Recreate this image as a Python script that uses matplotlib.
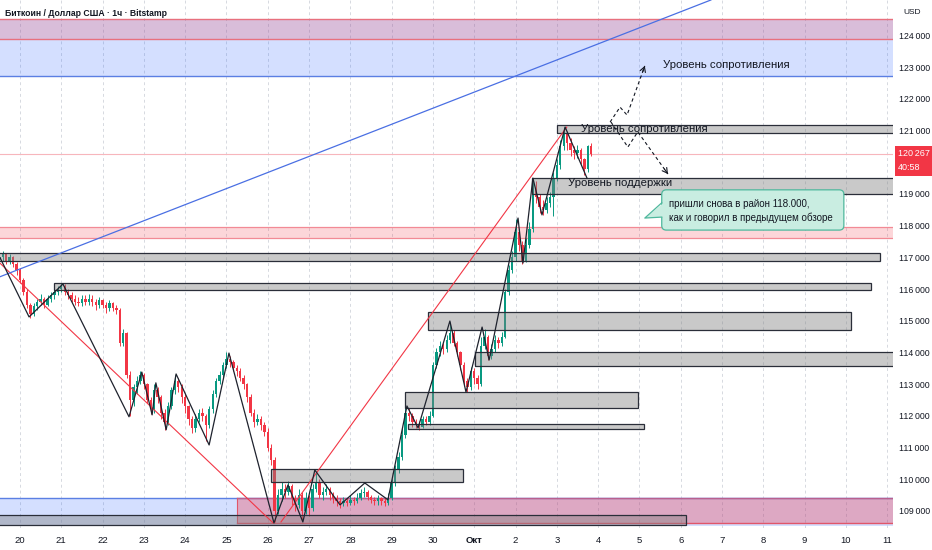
import matplotlib
matplotlib.use("Agg")
import matplotlib.pyplot as plt
import matplotlib.transforms as mtransforms
from matplotlib.patches import Rectangle, FancyBboxPatch, Polygon

plt.rcParams['font.family'] = ['Liberation Sans', 'DejaVu Sans']

# ---------------- data (time in days since 20 Sep 00:00, prices in thousands USD) -------------
t_start = -0.5          # first candle: 19 Sep 12:00
step = 1 / 12           # 2-hour candles
first_open = 116.95
closes = [
    117.0, 117.1, 116.9, 117.0, 116.8, 116.6, 116.3, 115.9, 115.5, 115.2, 115.45, 115.6,
    115.7, 115.5, 115.7, 115.8, 115.9, 116.0, 116.1, 115.9, 115.8, 115.7, 115.6, 115.55,
    115.7, 115.6, 115.7, 115.6, 115.5, 115.65, 115.5, 115.4, 115.55, 115.4, 115.35, 114.3,
    114.6, 113.3, 112.5, 112.9, 113.1, 113.3, 113.0, 112.5, 112.2, 112.8, 112.6, 112.1,
    111.8, 112.3, 112.8, 113.1, 112.9, 112.6, 112.3, 111.9, 111.6, 111.9, 112.1, 112.0,
    111.7, 112.2, 112.7, 113.1, 113.3, 113.6, 113.8, 113.7, 113.5, 113.4, 113.2, 113.0,
    112.6, 112.1, 111.8, 111.9, 111.7, 111.5, 111.0, 110.6, 109.0, 109.5, 109.7, 109.6,
    109.8, 109.4, 109.2, 109.5, 109.0, 109.4, 109.1, 109.7, 109.9, 109.5, 109.6, 109.7,
    109.5, 109.4, 109.3, 109.25, 109.3, 109.25, 109.35, 109.3, 109.4, 109.55, 109.6, 109.45,
    109.35, 109.3, 109.4, 109.3, 109.25, 109.4, 109.9, 110.3, 110.7, 111.4, 112.1, 112.0,
    111.8, 111.7, 111.65, 111.9, 111.8, 112.0, 113.6, 114.0, 114.2, 114.1, 114.4, 114.6,
    114.3, 114.0, 113.6, 113.1, 112.9, 113.4, 113.2, 113.0, 114.2, 114.5, 113.9, 114.1,
    114.4, 114.3, 114.5, 115.9, 116.6, 117.0, 117.8, 117.4, 116.9, 117.4, 117.9, 119.2,
    118.9, 118.6, 118.5, 118.7, 118.9, 119.5, 119.9, 120.5, 120.9, 120.6, 120.4, 120.3,
    120.4, 120.1, 119.8, 120.5, 120.267,
]
highs = [
    117.15, 117.2, 117.15, 117.1, 117.05, 116.85, 116.65, 116.35, 116.0, 115.55, 115.55, 115.7,
    115.85, 115.75, 115.8, 115.9, 116.0, 116.1, 116.2, 116.15, 116.0, 115.9, 115.8, 115.75,
    115.8, 115.8, 115.85, 115.8, 115.7, 115.75, 115.7, 115.6, 115.65, 115.6, 115.5, 115.4,
    114.75, 114.65, 113.4, 113.0, 113.25, 113.4, 113.35, 113.05, 112.6, 113.0, 112.9, 112.65,
    112.2, 112.45, 112.9, 113.3, 113.2, 113.0, 112.7, 112.35, 112.0, 112.05, 112.2, 112.25,
    112.05, 112.3, 112.8, 113.2, 113.4, 113.7, 114.0, 113.9, 113.75, 113.6, 113.5, 113.3,
    113.05, 112.7, 112.2, 112.05, 112.0, 111.8, 111.6, 111.1, 110.7, 109.7, 109.9, 109.85,
    109.95, 109.85, 109.5, 109.7, 109.6, 109.6, 109.5, 109.85, 110.2, 110.0, 109.75, 109.85,
    109.75, 109.6, 109.5, 109.4, 109.45, 109.4, 109.5, 109.45, 109.55, 109.7, 109.75, 109.65,
    109.5, 109.45, 109.5, 109.45, 109.4, 109.55, 110.0, 110.45, 110.85, 111.6, 112.3, 112.25,
    112.1, 111.9, 111.85, 112.0, 112.0, 112.15, 113.7, 114.15, 114.35, 114.3, 114.55, 114.95,
    114.7, 114.35, 114.05, 113.7, 113.2, 113.55, 113.5, 113.3, 114.5, 114.75, 114.55, 114.25,
    114.55, 114.5, 114.65, 116.0, 116.75, 117.2, 118.2, 117.9, 117.5, 117.6, 118.1, 119.5,
    119.4, 119.0, 118.8, 118.9, 119.05, 119.7, 120.1, 120.7, 121.1, 121.0, 120.75, 120.5,
    120.55, 120.45, 120.15, 120.55, 120.6,
]
lows = [
    116.85, 116.9, 116.8, 116.8, 116.7, 116.45, 116.2, 115.8, 115.4, 115.1, 115.15, 115.35,
    115.5, 115.4, 115.45, 115.6, 115.7, 115.8, 115.9, 115.8, 115.7, 115.6, 115.5, 115.45,
    115.45, 115.5, 115.5, 115.45, 115.35, 115.4, 115.4, 115.25, 115.3, 115.3, 115.2, 114.2,
    114.2, 113.2, 112.0, 112.3, 112.7, 113.0, 112.85, 112.4, 112.05, 112.1, 112.4, 111.9,
    111.55, 111.7, 112.2, 112.7, 112.75, 112.4, 112.1, 111.7, 111.45, 111.5, 111.8, 111.85,
    111.2, 111.6, 112.1, 112.6, 113.0, 113.2, 113.5, 113.55, 113.4, 113.25, 113.1, 112.85,
    112.45, 112.0, 111.65, 111.7, 111.55, 111.35, 110.9, 110.45, 108.65, 108.9, 109.3, 109.4,
    109.5, 109.2, 109.0, 109.1, 108.75, 108.9, 108.85, 109.0, 109.6, 109.4, 109.35, 109.5,
    109.35, 109.25, 109.15, 109.1, 109.15, 109.15, 109.2, 109.2, 109.25, 109.35, 109.45, 109.35,
    109.25, 109.2, 109.2, 109.2, 109.15, 109.2, 109.35, 109.8, 110.2, 110.6, 111.3, 111.85,
    111.65, 111.6, 111.55, 111.6, 111.7, 111.7, 111.95, 113.5, 113.9, 113.95, 114.0, 114.3,
    114.2, 113.9, 113.45, 112.95, 112.75, 112.8, 113.0, 112.85, 112.95, 114.1, 113.75, 113.8,
    114.0, 114.15, 114.2, 114.45, 115.8, 116.5, 116.9, 117.2, 116.8, 116.85, 117.3, 117.8,
    118.7, 118.4, 118.35, 118.4, 118.6, 118.3, 119.4, 119.8, 120.4, 120.4, 120.2, 120.1,
    120.15, 119.95, 119.6, 119.7, 120.2,
]

day_ticks = list(range(0, 22))
day_labels = ["20", "21", "22", "23", "24", "25", "26", "27", "28", "29", "30",
              "Окт", "2", "3", "4", "5", "6", "7", "8", "9", "10", "11"]
price_ticks = [109, 110, 111, 112, 113, 114, 115, 116, 117, 118, 119, 121, 122, 123, 124]
last_price = 120.267
last_price_label = "120\u2009267"
countdown_label = "40:58"

# zigzag swing line
zz_t = [-0.48, 0.22, 1.04, 2.64, 2.95, 3.20, 3.29, 3.54, 3.78, 4.58, 5.06, 6.15, 6.49, 6.85,
        7.14, 7.75, 8.35, 8.91, 9.37, 9.64, 10.41, 10.80, 11.19, 11.36, 12.06, 12.18, 12.42,
        12.64, 13.20, 13.73]
zz_p = [116.98, 115.12, 116.16, 111.97, 113.38, 112.03, 113.04, 111.56, 113.32, 111.08, 113.98,
        108.62, 109.82, 108.65, 110.29, 109.19, 109.88, 109.35, 112.31, 111.62, 114.99, 112.75,
        114.80, 113.76, 118.24, 116.82, 119.50, 118.34, 121.11, 119.50]

# trend lines
red1_t, red1_p = [-0.48, 6.13], [116.81, 108.62]
red2_t, red2_p = [6.32, 13.24], [108.65, 121.11]
blue_t, blue_p = [-0.48, 16.73], [116.39, 125.12]

# gray order-block rectangles
rect_t0 = [-1.0, 0.82, 9.88, 11.02, 9.32, 9.39, 6.08, 12.40, 13.00, -1.0]
rect_t1 = [20.82, 20.60, 20.12, 23.0, 14.96, 15.11, 10.73, 23.0, 23.0, 16.13]
rect_lo = [116.89, 115.97, 114.71, 113.57, 112.25, 111.58, 109.91, 119.00, 120.92, 108.56]
rect_hi = [117.14, 116.19, 115.28, 114.02, 112.75, 111.74, 110.32, 119.50, 121.18, 108.87]

# zones
top_blue = (122.72, 124.52)
top_red = (123.89, 124.52)
mid_red = (117.61, 117.97)
bot_blue = (108.53, 109.41)
bot_red = (108.62, 109.41)
bot_red_t0 = 5.25

# projection paths
up_t, up_p = [14.29, 14.53, 14.70, 15.13], [121.27, 121.74, 121.49, 123.04]
dn_t, dn_p = [14.31, 14.72, 14.96, 15.69], [121.27, 120.48, 120.96, 119.63]

# callout
call_t0, call_t1, call_p0, call_p1 = 15.54, 19.95, 117.86, 119.13
call_tip = (15.13, 118.24)
call_base = (118.27, 118.72)
call_text = "пришли снова в район 118.000,\nкак и говорил в предыдущем обзоре"

# ---------------- drawing -----------------------------------------------------
GREEN = "#089981"
RED = "#F23645"
TXT = "#131722"

fig = plt.figure(figsize=(9.32, 5.5), dpi=100)
ax = fig.add_axes([0, 22 / 550, 893 / 932, 528 / 550])
ax.set_xlim(-0.484, 21.14)
ax.set_ylim(108.46, 125.12)
for s in ax.spines.values():
    s.set_visible(False)

ax.set_xticks(day_ticks)
ax.set_xticklabels(day_labels)
for lbl in ax.get_xticklabels():
    if lbl.get_text() == "Окт":
        lbl.set_fontweight("bold")
ax.tick_params(axis="x", length=0, pad=6, labelsize=6.8, colors=TXT)
ax.grid(axis="x", color="#d6d9e0", linestyle=(0, (3, 3)), lw=0.7, zorder=0.5)
ax.set_axisbelow(True)

ax.yaxis.tick_right()
ax.set_yticks(price_ticks)
ax.set_yticklabels([f"{int(round(v * 1000)):,}".replace(",", "\u2009") for v in price_ticks])
ax.tick_params(axis="y", length=0, pad=4, labelsize=6.3, colors=TXT)

# zones
ax.axhspan(*top_blue, color="#2962FF", alpha=0.2, lw=0, zorder=1)
ax.axhline(top_blue[0], color="#5b7fe3", lw=1.0, zorder=1.1)
ax.axhspan(*top_red, color=RED, alpha=0.2, lw=0, zorder=1.05)
ax.axhline(top_red[0], color="#e8707e", lw=1.0, zorder=1.1)
ax.axhline(top_red[1], color="#e8707e", lw=1.0, zorder=1.1)
ax.axhspan(*mid_red, color=RED, alpha=0.2, lw=0, zorder=1)
ax.axhline(mid_red[0], color="#f28a95", lw=0.9, zorder=1.1)
ax.axhline(mid_red[1], color="#f28a95", lw=0.9, zorder=1.1)
ax.axhspan(*bot_blue, color="#2962FF", alpha=0.2, lw=0, zorder=1)
ax.axhline(bot_blue[1], color="#5b7fe3", lw=1.0, zorder=1.1)
ax.add_patch(Rectangle((bot_red_t0, bot_red[0]), 30, bot_red[1] - bot_red[0],
                       facecolor=RED, alpha=0.32, lw=0, zorder=1.2))
ax.plot([bot_red_t0, 30], [bot_red[0]] * 2, color="#e0566a", lw=1.0, zorder=1.3)
ax.plot([bot_red_t0, 30], [bot_red[1]] * 2, color="#b8608f", lw=1.0, zorder=1.3)
ax.plot([bot_red_t0, bot_red_t0], bot_red, color="#e0566a", lw=0.8, zorder=1.3)

# current price line
ax.axhline(last_price, color="#f7b6bc", lw=0.8, zorder=1.5)

# candles
n = len(closes)
ct = [t_start + i * step for i in range(n)]
opens = [first_open] + closes[:-1]
cols = [GREEN if c >= o else RED for o, c in zip(opens, closes)]
ax.vlines(ct, lows, highs, colors=cols, lw=0.7, zorder=2)
bottoms = [min(o, c) for o, c in zip(opens, closes)]
heights = [max(abs(c - o), 0.03) for o, c in zip(opens, closes)]
ax.bar(ct, heights, bottom=bottoms, width=0.058, color=cols, lw=0, zorder=2.1)

# gray rectangles
for a, b, lo, hi in zip(rect_t0, rect_t1, rect_lo, rect_hi):
    ax.add_patch(Rectangle((a, lo), b - a, hi - lo, facecolor="#808080", alpha=0.42,
                           lw=0, zorder=3))
    ax.add_patch(Rectangle((a, lo), b - a, hi - lo, facecolor="none",
                           edgecolor="#2a2e39", lw=0.9, zorder=3.1))

# trend lines
ax.plot(red1_t, red1_p, color=RED, lw=0.8, zorder=4)
ax.plot(red2_t, red2_p, color=RED, lw=0.8, zorder=4)
ax.plot(blue_t, blue_p, color="#4a6fe3", lw=0.9, zorder=4)
ax.plot(zz_t, zz_p, color="#1e222d", lw=0.9, zorder=4.5)

# projections
for pt, pp in ((up_t, up_p), (dn_t, dn_p)):
    ax.plot(pt, pp, color=TXT, lw=0.8, linestyle=(0, (3, 2.5)), zorder=5)
    ex, ey = pt[-1], pp[-1]
    sx = ex - 0.12 * (pt[-1] - pt[-2])
    sy = ey - 0.12 * (pp[-1] - pp[-2])
    ax.annotate("", xy=(ex, ey), xytext=(sx, sy),
                arrowprops=dict(arrowstyle="->,head_length=0.35,head_width=0.2",
                                color=TXT, lw=0.8, shrinkA=0, shrinkB=0), zorder=5)

# level labels
ax.text(13.58, 121.05, "Уровень сопротивления", fontsize=8.2, color=TXT, va="center",
        ha="left", zorder=6)
ax.text(15.57, 123.07, "Уровень сопротивления", fontsize=8.2, color=TXT, va="center",
        ha="left", zorder=6)
ax.text(13.27, 119.35, "Уровень поддержки", fontsize=8.2, color=TXT, va="center",
        ha="left", zorder=6)

# callout (rounded box, corners kept round on screen via the y/x unit ratio)
y_per_x_pixel_ratio = 0.031546 * 41.3
box = FancyBboxPatch((call_t0, call_p0), call_t1 - call_t0, call_p1 - call_p0,
                     boxstyle="round,pad=0,rounding_size=0.11",
                     mutation_aspect=y_per_x_pixel_ratio,
                     facecolor="#c9ede1", edgecolor="#4fb89d", lw=0.9, zorder=6)
ax.add_patch(box)
tri = Polygon([(call_t0 + 0.05, call_base[0]), call_tip, (call_t0 + 0.05, call_base[1])],
              closed=True, facecolor="#c9ede1", edgecolor="none", zorder=6.1)
ax.add_patch(tri)
ax.plot([call_t0, call_tip[0], call_t0], [call_base[0], call_tip[1], call_base[1]],
        color="#4fb89d", lw=0.9, zorder=6.2)
ax.text(15.71, 118.46, call_text, fontsize=7, color=TXT, va="center", ha="left",
        linespacing=1.35, zorder=6.3)

# last price label on axis
trans = mtransforms.blended_transform_factory(ax.transAxes, ax.transData)
ax.add_patch(Rectangle((1.0022, 119.568), 0.045, 0.946, transform=trans,
                       facecolor=RED, edgecolor="none", clip_on=False, zorder=7))
ax.text(1.0056, 120.262, last_price_label, transform=trans, fontsize=6.5, color="white",
        va="center", ha="left", clip_on=False, zorder=8)
ax.text(1.0056, 119.82, countdown_label, transform=trans, fontsize=6.5, color="white",
        va="center", ha="left", clip_on=False, zorder=8)

# header texts
fig.text(5 / 932, 1 - 13 / 550, "Биткоин / Доллар США · 1ч · Bitstamp", fontsize=6.2,
         fontweight="bold", color=TXT, va="center", ha="left")
fig.text(903 / 932, 1 - 13 / 550, "USD", fontsize=6, color=TXT, va="center", ha="left")

fig.savefig("out.png", dpi=100)
